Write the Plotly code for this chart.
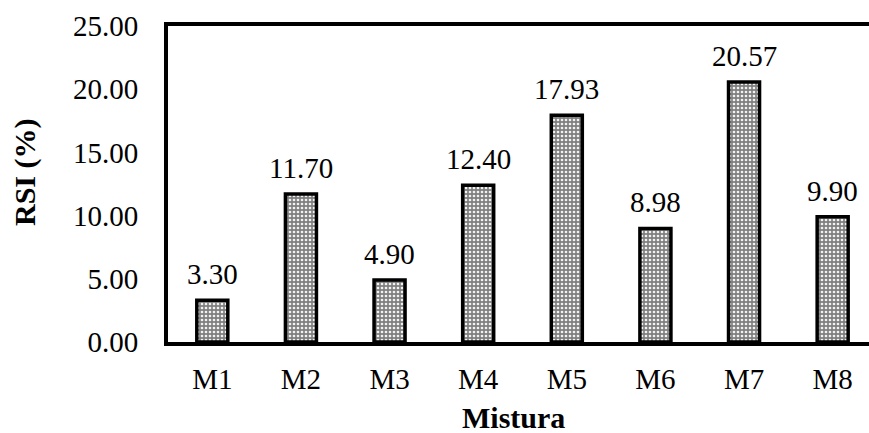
import plotly.graph_objects as go

mixtures = ["M1", "M2", "M3", "M4", "M5", "M6", "M7", "M8"]
rsi_values = [3.30, 11.70, 4.90, 12.40, 17.93, 8.98, 20.57, 9.90]
y_tick_values = [0, 5, 10, 15, 20, 25]
y_tick_labels = ["0.00", "5.00", "10.00", "15.00", "20.00", "25.00"]

FONT = "Liberation Serif, Times New Roman, serif"

fig = go.Figure()
fig.add_trace(go.Bar(
    x=mixtures,
    y=rsi_values,
    width=0.35,
    marker=dict(
        color="#8c8c8c",
        line=dict(color="black", width=3.5),
        pattern=dict(shape=".", bgcolor="#808080", fgcolor="#f2f2f2",
                     size=4, solidity=0.35, fillmode="replace"),
    ),
    showlegend=False,
    hoverinfo="skip",
))

# value labels above each bar
for name, v in zip(mixtures, rsi_values):
    fig.add_annotation(x=name, y=v, text=f"{v:.2f}", showarrow=False,
                       yanchor="bottom", yshift=8,
                       font=dict(family=FONT, size=29, color="black"))

# axis titles
fig.add_annotation(xref="paper", yref="paper", x=-0.204, y=0.538,
                   xanchor="center", yanchor="middle",
                   text="<b>RSI (%)</b>", textangle=-90, showarrow=False,
                   font=dict(family=FONT, size=30, color="black"))
fig.add_annotation(xref="paper", yref="paper", x=0.493, y=-0.18,
                   xanchor="center", yanchor="top",
                   text="<b>Mistura</b>", showarrow=False,
                   font=dict(family=FONT, size=30, color="black"))

fig.update_layout(
    width=869, height=433,
    margin=dict(l=168, r=0, t=26, b=91),
    paper_bgcolor="white", plot_bgcolor="white",
    bargap=0.65,
)
fig.update_xaxes(
    range=[-0.5, 7.41],
    showline=True, linecolor="black", linewidth=4, mirror=True,
    showgrid=False, ticks="", ticklabelstandoff=8,
    tickfont=dict(family=FONT, size=29, color="black"),
)
fig.update_yaxes(
    range=[0, 25], tickvals=y_tick_values, ticktext=y_tick_labels,
    showline=True, linecolor="black", linewidth=4, mirror=False,
    showgrid=False, zeroline=False, ticks="", ticklabelstandoff=20,
    tickfont=dict(family=FONT, size=29, color="black"),
)

fig.write_html("out.html")
